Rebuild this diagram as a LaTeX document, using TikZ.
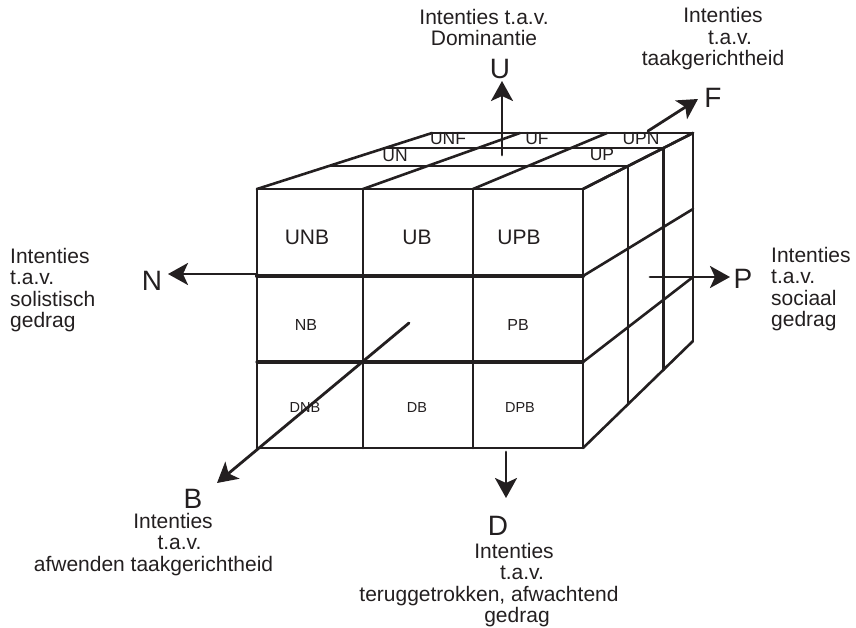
\documentclass[tikz,border=0pt]{standalone}
\usepackage{fontspec}
\setmainfont{Liberation Sans}
\usetikzlibrary{arrows.meta,calc}
\definecolor{ink}{RGB}{35,31,32}

\begin{document}
\begin{tikzpicture}[
  x=1pt,
  y=-1pt,
  line join=round,
  line cap=round,
  edge/.style={draw=ink,line width=2.6pt},
  heavyedge/.style={draw=ink,line width=4.2pt},
  axis/.style={draw=ink,line width=2.8pt,-{Stealth[length=20pt,width=22pt,inset=5pt]}},
  letter/.style={text=ink,font=\fontsize{28}{28}\selectfont,anchor=base,inner sep=0pt},
  note/.style={text=ink,font=\fontsize{21}{21.5}\selectfont,inner sep=0pt},
  bigcell/.style={text=ink,font=\fontsize{21}{21}\selectfont,inner sep=0pt},
  midcell/.style={text=ink,font=\fontsize{16}{16}\selectfont,inner sep=0pt},
  lowcell/.style={text=ink,font=\fontsize{14.5}{14.5}\selectfont,inner sep=0pt},
  topcell/.style={text=ink,font=\fontsize{17.5}{17.5}\selectfont,inner sep=0pt}
]
  \useasboundingbox (0,0) rectangle (856,627);

  % Front face corners f<column><row>.
  \foreach \i/\x in {0/257,1/363,2/473,3/583} {
    \foreach \j/\y in {0/189,1/276,2/362,3/448} {
      \coordinate (f\i\j) at (\x,\y);
    }
  }
  % Back edges of top and right face.
  \foreach \i/\x in {0/432,1/520,2/607,3/693} {
    \coordinate (t\i) at (\x,133);
  }
  \foreach \j/\y in {0/133,1/209,2/277,3/341} {
    \coordinate (r\j) at (693,\y);
  }

  % Front face grid.
  \foreach \i in {0,...,3} {
    \draw[edge] (f\i0) -- (f\i3);
  }
  \draw[edge] (f00) -- (f30);
  \draw[heavyedge] (f01) -- (f31);
  \draw[edge,line width=3.1pt] (f02) -- (f32);
  \draw[edge] (f03) -- (f33);

  % Top face and right face.
  \foreach \i in {0,...,3} {
    \draw[edge] (f\i0) -- (t\i);
  }
  \foreach \j in {0,...,3} {
    \draw[edge] (f3\j) -- (r\j);
  }
  \draw[edge] (t0) -- (t3);
  \draw[edge] (r0) -- (r3);
  \foreach \d in {0.41,0.73} {
    \draw[edge] ($(f00)!\d!(t0)$) -- ($(f30)!\d!(t3)$);
    \draw[edge] ($(f30)!\d!(r0)$) -- ($(f33)!\d!(r3)$);
  }

  % Axis ends.
  \coordinate (uroot) at (502,155);
  \coordinate (utip) at (502,81);
  \coordinate (froot) at (648,131);
  \coordinate (ftip) at (698,99);
  \coordinate (nroot) at (257,274);
  \coordinate (ntip) at (168,274);
  \coordinate (proot) at (650,277);
  \coordinate (ptip) at (730,277);
  \coordinate (broot) at (409,323);
  \coordinate (btip) at (217,483);
  \coordinate (droot) at (506,452);
  \coordinate (dtip) at (506,498);

  \draw[axis] (uroot) -- (utip);
  \draw[axis] (froot) -- (ftip);
  \draw[axis] (nroot) -- (ntip);
  \draw[axis] (proot) -- (ptip);
  \draw[axis] (broot) -- (btip);
  \draw[axis] (droot) -- (dtip);

  % Axis letters.
  \node[letter] (U) at (500,78) {U};
  \node[letter] (F) at (713,107) {F};
  \node[letter] (N) at (152,290) {N};
  \node[letter] (P) at (743,288) {P};
  \node[letter] (B) at (193,508) {B};
  \node[letter] (D) at (498,535) {D};

  % Axis descriptions.
  \node[note,align=center,anchor=north] (utext) at (484,9)
    {Intenties t.a.v.\\Dominantie};
  \node[note,align=center,anchor=north] (ftext) at (713,7.5)
    {\hspace*{20pt}Intenties\\\hspace*{34pt}t.a.v.\\taakgerichtheid};
  \node[note,align=left,anchor=north west] (ntext) at (10,248)
    {Intenties\\t.a.v.\\solistisch\\gedrag};
  \node[note,align=left,anchor=north west] (ptext) at (771,247)
    {Intenties\\t.a.v.\\sociaal\\gedrag};
  \node[note,align=center,anchor=north] (btext) at (153.5,513)
    {\hspace*{39pt}Intenties\\\hspace*{52pt}t.a.v.\\afwenden taakgerichtheid};
  \node[note,align=center,anchor=north] (dtext) at (489,543)
    {\hspace*{50pt}Intenties\\\hspace*{66pt}t.a.v.\\teruggetrokken, afwachtend\\\hspace*{56pt}gedrag};

  % Cell labels.
  \foreach \lbl/\x/\y in {UNB/307/237,UB/417/237,UPB/519/237} {
    \node[bigcell] (\lbl) at (\x,\y) {\lbl};
  }
  \foreach \lbl/\x/\y in {NB/306/325,PB/518/325} {
    \node[midcell] (\lbl) at (\x,\y) {\lbl};
  }
  \foreach \lbl/\x/\y in {DNB/305/408,DB/417/408,DPB/520/408} {
    \node[lowcell] (\lbl) at (\x,\y) {\lbl};
  }
  \foreach \lbl/\x/\y in {UN/395/156,UNF/448/139,UF/537/139,UPN/641/139,UP/602/155} {
    \node[topcell] (\lbl) at (\x,\y) {\lbl};
  }
\end{tikzpicture}
\end{document}
